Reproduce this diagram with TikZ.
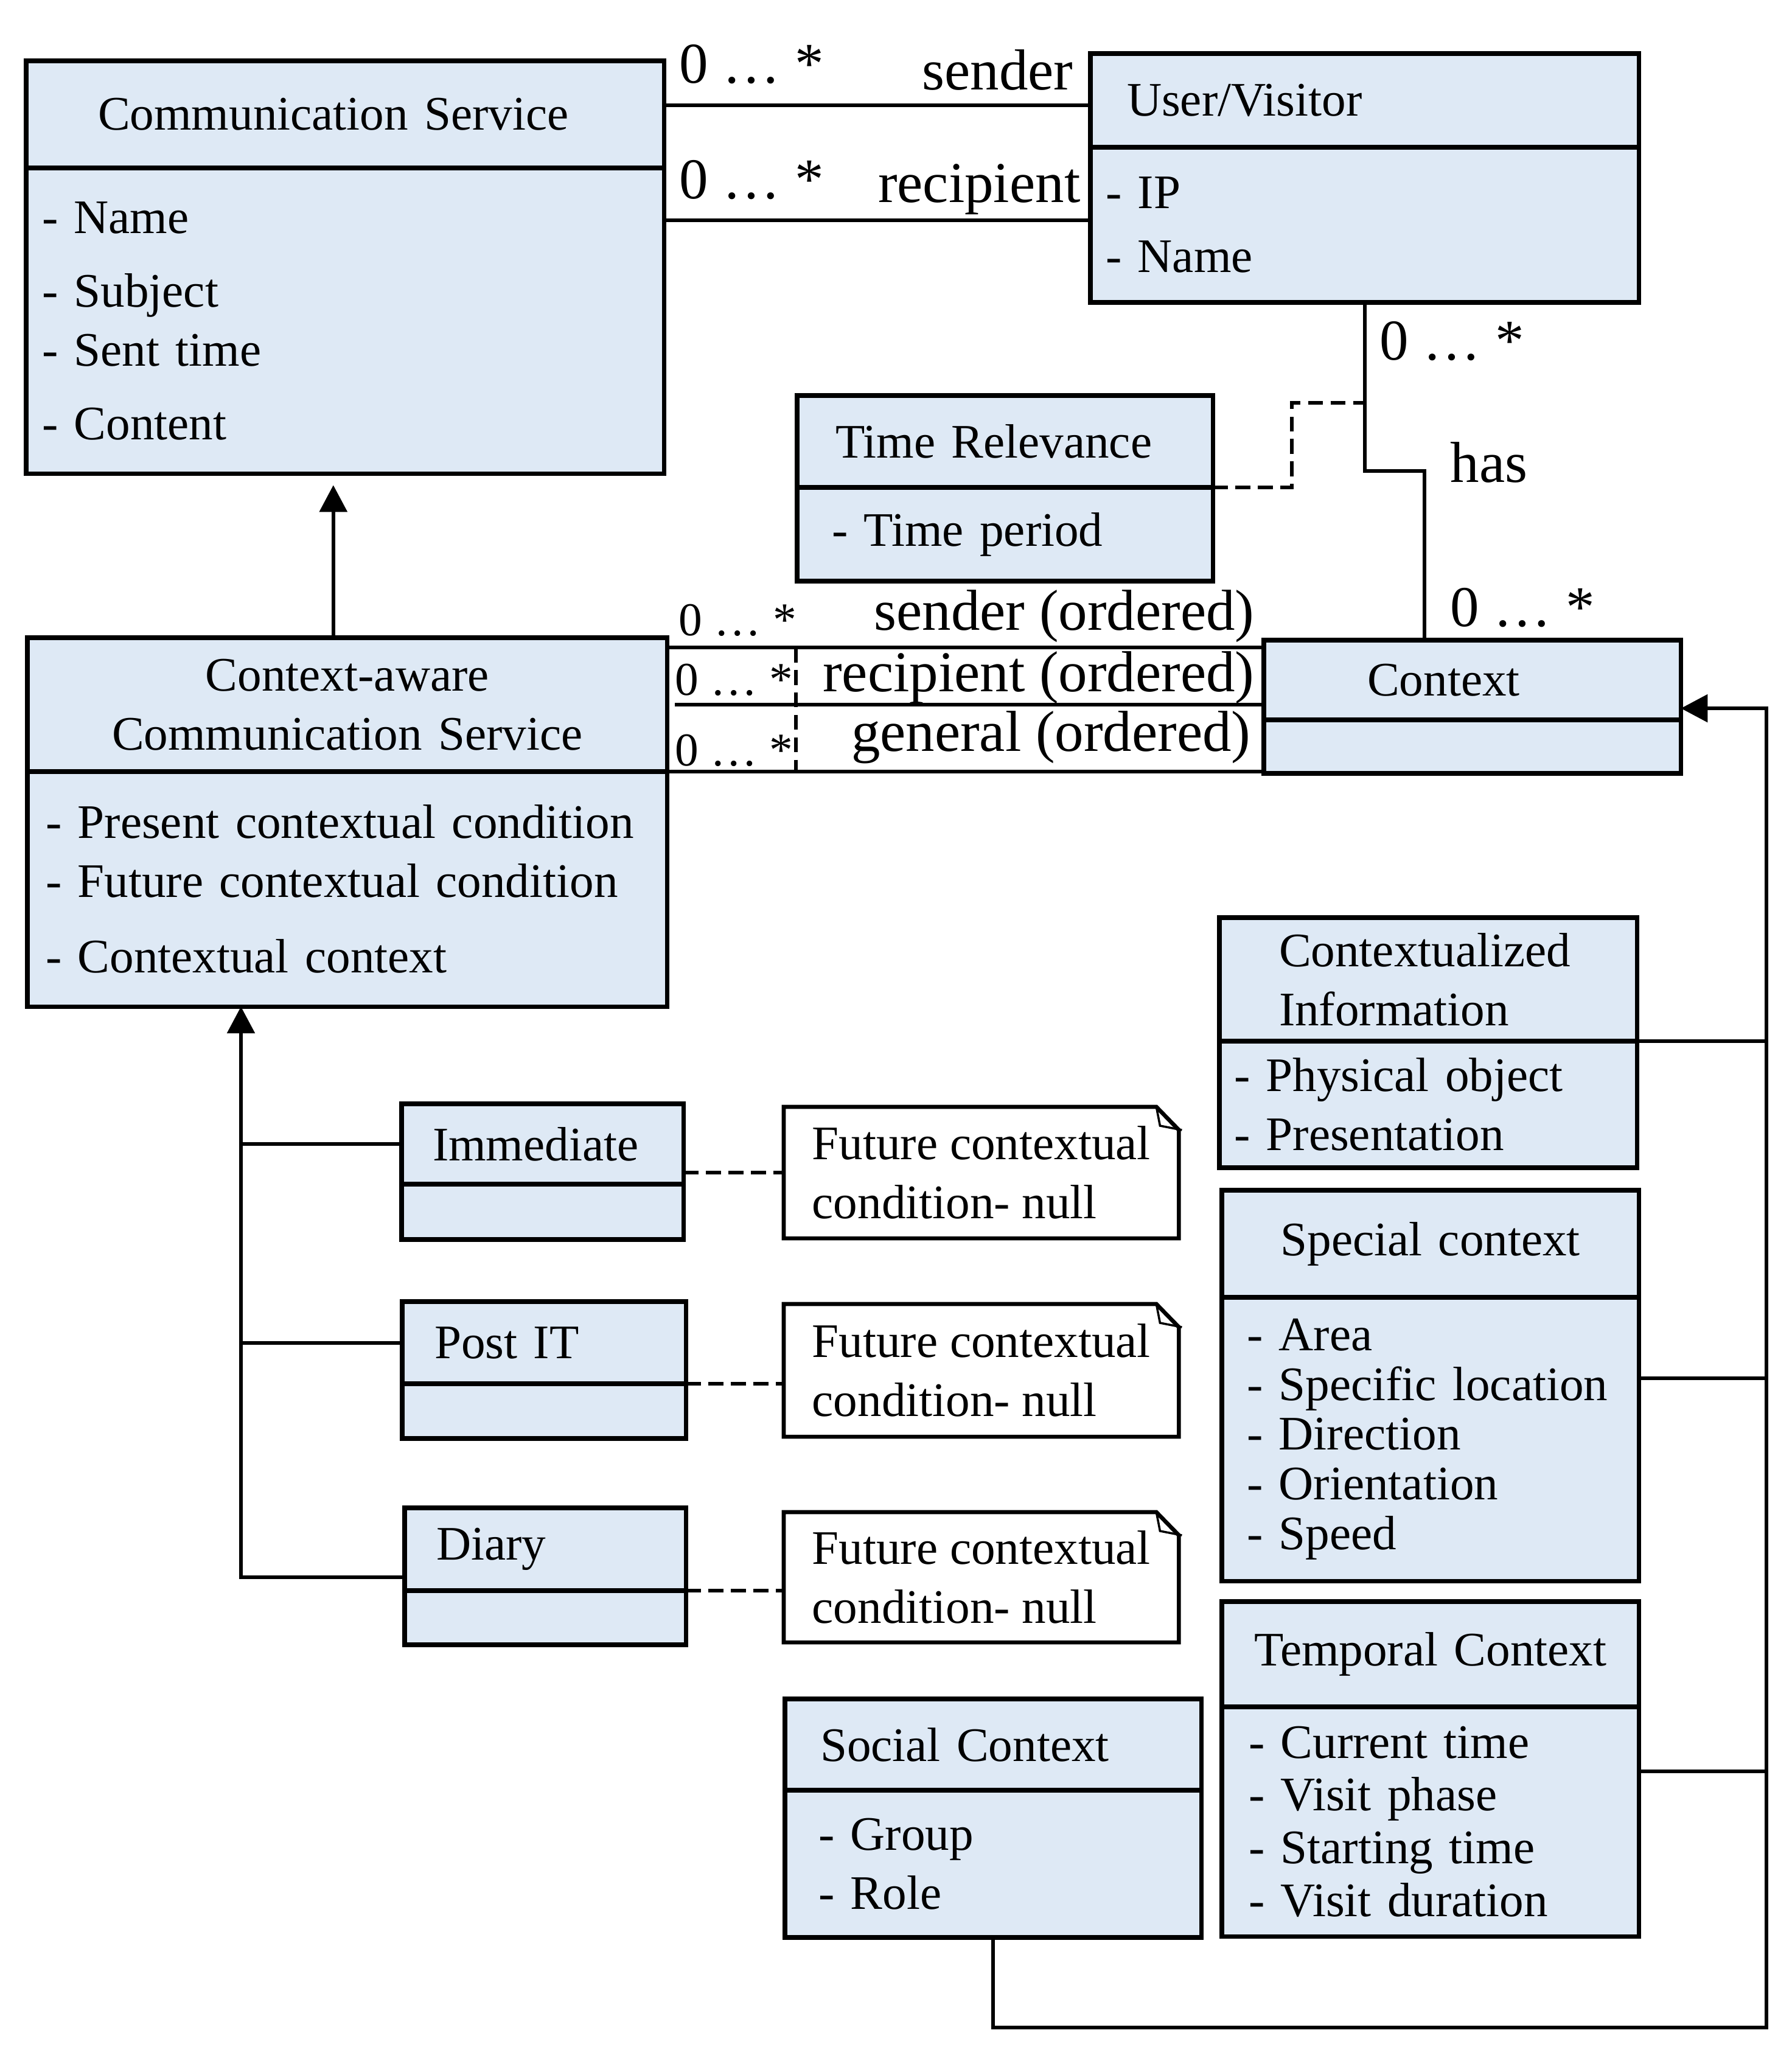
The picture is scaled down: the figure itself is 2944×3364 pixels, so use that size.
\documentclass[tikz,border=0pt]{standalone}
\usepackage{fontspec}
\setmainfont{Liberation Serif}
\usepackage{tikz}
\usetikzlibrary{arrows.meta,positioning}
\definecolor{umlblue}{RGB}{222,233,245}

\begin{document}
\begin{tikzpicture}[x=0.01cm,y=-0.01cm,line join=miter]
\tikzset{
    classpart/.style={draw=black, line width=2.1pt, fill=umlblue, anchor=north west, outer sep=0pt, inner ysep=0pt, align=left, font=\fontsize{22.5}{27.6}\selectfont},
    notebox/.style={anchor=north west, outer sep=0pt, inner ysep=0pt, inner xsep=0pt, align=left, font=\fontsize{22.5}{27.6}\selectfont, minimum width=6.49cm},
    noteline/.style={draw=black, line width=1.9pt},
    assoc/.style={line width=1.7pt},
    dep/.style={line width=1.7pt, dash pattern=on 7pt off 3.5pt},
    gen/.style={line width=1.7pt, -{Triangle[length=12.5pt,width=12.8pt]}},
    mult/.style={inner sep=0pt, font=\fontsize{27}{32}\selectfont},
    smallmult/.style={inner sep=0pt, font=\fontsize{22}{26}\selectfont},
    role/.style={inner sep=0pt, font=\fontsize{27}{32}\selectfont},
}
\useasboundingbox (0,0) rectangle (2944,3364);
\node[classpart, minimum width=10.48cm, minimum height=1.76cm, text width=8.12cm, inner xsep=1.18cm] (csh) at (43,100) {Communication Service};
\node[classpart, minimum width=10.48cm, minimum height=5.02cm, text width=9.96cm, inner xsep=0.26cm] (csb) at (43,276) {- Name\\[6.8pt]- Subject\\- Sent time\\[6.8pt]- Content};
\node[classpart, minimum width=9.01cm, minimum height=1.54cm, text width=7.81cm, inner xsep=0.60cm] (uvh) at (1792,88) {User/Visitor};
\node[classpart, minimum width=9.01cm, minimum height=2.55cm, text width=8.51cm, inner xsep=0.25cm] (uvb) at (1792,242) {- IP\\[2.3pt]- Name};
\node[classpart, minimum width=6.83cm, minimum height=1.51cm, text width=5.57cm, inner xsep=0.63cm] (trh) at (1310,650) {Time Relevance};
\node[classpart, minimum width=6.83cm, minimum height=1.54cm, text width=5.69cm, inner xsep=0.57cm] (trb) at (1310,801) {- Time period};
\node[classpart, minimum width=6.85cm, minimum height=1.31cm, text width=3.45cm, inner xsep=1.70cm] (ctxh) at (2077,1052) {Context};
\node[classpart, minimum width=6.85cm, minimum height=0.88cm, inner xsep=0pt] (ctxb) at (2077,1183) {};
\node[classpart, minimum width=10.51cm, minimum height=2.20cm, text width=10.31cm, inner xsep=0.10cm, align=center] (cah) at (45,1048) {Context-aware\\Communication Service};
\node[classpart, minimum width=10.51cm, minimum height=3.86cm, text width=9.91cm, inner xsep=0.30cm] (cab) at (45,1268) {- Present contextual condition\\- Future contextual condition\\[7.7pt]- Contextual context};
\node[classpart, minimum width=4.63cm, minimum height=1.32cm, text width=3.61cm, inner xsep=0.51cm] (imh) at (660,1814) {Immediate};
\node[classpart, minimum width=4.63cm, minimum height=0.91cm, inner xsep=0pt] (imb) at (660,1946) {};
\node[classpart, minimum width=4.66cm, minimum height=1.35cm, text width=3.60cm, inner xsep=0.53cm] (pih) at (661,2139) {Post IT};
\node[classpart, minimum width=4.66cm, minimum height=0.90cm, inner xsep=0pt] (pib) at (661,2274) {};
\node[classpart, minimum width=4.62cm, minimum height=1.36cm, text width=3.58cm, inner xsep=0.52cm] (dih) at (665,2478) {Diary};
\node[classpart, minimum width=4.62cm, minimum height=0.89cm, inner xsep=0pt] (dib) at (665,2614) {};
\node[notebox, minimum height=2.16cm] (n1) at (1288,1819) {Future contextual\\condition- null};
\node[notebox, minimum height=2.18cm] (n2) at (1288,2143) {Future contextual\\condition- null};
\node[notebox, minimum height=2.14cm] (n3) at (1288,2485) {Future contextual\\condition- null};
\foreach \n in {n1,n2,n3}{
    \draw[noteline] (\n.south west) -- (\n.north west) -- ([xshift=-0.37cm]\n.north east) -- ([yshift=-0.38cm]\n.north east) -- (\n.south east) -- cycle;
    \draw[line width=1pt] ([xshift=-0.37cm]\n.north east) -- ([xshift=-0.31cm,yshift=-0.31cm]\n.north east) -- ([xshift=0.05cm,yshift=-0.38cm]\n.north east);
}
\node[classpart, minimum width=6.86cm, minimum height=2.03cm, text width=4.90cm, inner xsep=0.98cm] (cih) at (2004,1508) {Contextualized\\Information};
\node[classpart, minimum width=6.86cm, minimum height=2.08cm, text width=6.38cm, inner xsep=0.24cm] (cib) at (2004,1711) {- Physical object\\- Presentation};
\node[classpart, minimum width=6.85cm, minimum height=1.76cm, text width=6.65cm, inner xsep=0.10cm, align=center] (sph) at (2008,1956) {Special context};
\node[classpart, minimum width=6.85cm, minimum height=4.66cm, text width=6.03cm, inner xsep=0.41cm, font=\fontsize{22.5}{23.2}\selectfont] (spb) at (2008,2132) {- Area\\- Specific location\\- Direction\\- Orientation\\- Speed};
\node[classpart, minimum width=6.85cm, minimum height=1.73cm, text width=6.65cm, inner xsep=0.10cm, align=center] (tch) at (2008,2632) {Temporal Context};
\node[classpart, minimum width=6.85cm, minimum height=3.77cm, text width=5.97cm, inner xsep=0.44cm, font=\fontsize{22.5}{24.6}\selectfont] (tcb) at (2008,2805) {- Current time\\- Visit phase\\- Starting time\\- Visit duration};
\node[classpart, minimum width=6.84cm, minimum height=1.50cm, text width=5.68cm, inner xsep=0.58cm] (soh) at (1290,2792) {Social Context};
\node[classpart, minimum width=6.84cm, minimum height=2.42cm, text width=5.74cm, inner xsep=0.55cm] (sob) at (1290,2942) {- Group\\- Role};
\coordinate (hasturn) at (2341,774);
\coordinate (trdash) at (2123,662);
\coordinate (ordmid) at (1109,1158);
\coordinate (orddash) at (1308,1064);
\coordinate (treebot) at (396,2592);
\coordinate (busbot) at (2903,3332);
\draw[assoc] ([yshift=-0.08cm]uvh.west) -- ([yshift=-0.08cm]uvh.west -| csh.east);
\draw[assoc] ([yshift=0.075cm]uvb.west) -- ([yshift=0.075cm]uvb.west -| csb.east);
\draw[assoc] (uvb.south) |- (hasturn) -- (hasturn |- ctxh.north);
\draw[dep] (trh.south east) -| (trdash) -- (trdash -| uvb.south);
\draw[assoc] ([yshift=-0.16cm]cah.north east) -- ([yshift=-0.16cm]cah.north east -| ctxh.west);
\draw[assoc] (ordmid) -- (ordmid -| ctxh.west);
\draw[assoc] (cah.south east) -- (cah.south east -| ctxb.west);
\draw[dep] (orddash) -- (orddash |- cah.south east);
\draw[gen, shorten >=0.19cm] ([xshift=-0.23cm]cah.north) -- ([xshift=-0.23cm]cah.north |- csb.south);
\draw[gen] (dih.west |- treebot) -- (treebot) -- (treebot |- cab.south);
\draw[assoc] (treebot |- imh.west) -- (imh.west);
\draw[assoc] (treebot |- pih.west) -- (pih.west);
\draw[dep] (imh.east |- n1.west) -- (n1.west);
\draw[dep] (pih.south east) -- (pih.south east -| n2.west);
\draw[dep] (dih.south east) -- (dih.south east -| n3.west);
\draw[gen] (sob.south) |- (busbot) |- ([yshift=0.19cm]ctxh.south east);
\draw[assoc] (cih.south east) -- (cih.south east -| busbot);
\draw[assoc] ([yshift=1.0cm]spb.east) -- ([yshift=1.0cm]spb.east -| busbot);
\draw[assoc] ([yshift=0.83cm]tcb.east) -- ([yshift=0.83cm]tcb.east -| busbot);
\node[mult, anchor=base west] (mcs1) at (1116,137) {0 … *};
\node[role, anchor=base east] (rsend) at (1764,148) {sender};
\node[mult, anchor=base west] (mcs2) at (1116,327) {0 … *};
\node[role, anchor=base east] (rrecip) at (1776,333) {recipient};
\node[mult, anchor=base west] (muv) at (2267,592) {0 … *};
\node[role, anchor=base west] (rhas) at (2383,792) {has};
\node[mult, anchor=base west] (mctx) at (2383,1029) {0 … *};
\node[smallmult, anchor=base west] (mca1) at (1115,1044) {0 … *};
\node[role, anchor=base east] (rsendo) at (2062,1035) {sender (ordered)};
\node[smallmult, anchor=base west] (mca2) at (1109,1142) {0 … *};
\node[role, anchor=base east] (rrecipo) at (2062,1136) {recipient (ordered)};
\node[smallmult, anchor=base west] (mca3) at (1109,1258) {0 … *};
\node[role, anchor=base east] (rgen) at (2056,1234) {general (ordered)};
\end{tikzpicture}
\end{document}
